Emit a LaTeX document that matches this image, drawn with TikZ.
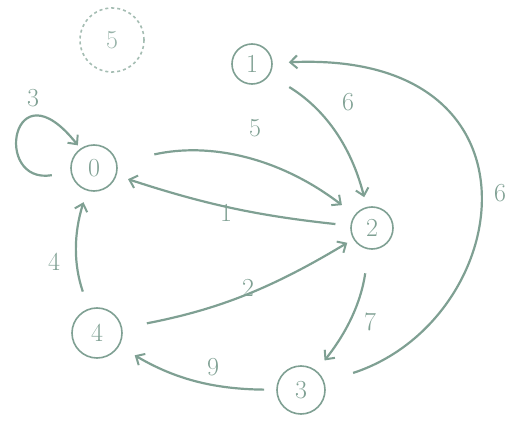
\documentclass[tikz,border=0pt]{standalone}
\usetikzlibrary{arrows.meta}
\definecolor{pencil}{HTML}{7FA093}
\begin{document}
\begin{tikzpicture}[x=1pt,y=-1pt,
  state/.style={circle,draw=pencil,line width=1.6pt,inner sep=0pt,text=pencil,font=\fontsize{26}{30}\selectfont},
  ghost/.style={state,dashed,draw=pencil!70,text=pencil!80},
  conn/.style={draw=pencil,line width=2.2pt,-{Straight Barb[length=7pt,width=13pt,line width=2pt]}},
  lbl/.style={text=pencil,font=\fontsize{26}{30}\selectfont,inner sep=0pt}]
\useasboundingbox (0,0) rectangle (515,423);
\node[ghost,minimum size=64pt] (n5) at (112,40) {5};
\node[state,minimum size=40pt] (n1) at (252,64) {1};
\node[state,minimum size=46pt] (n0) at (94,168) {0};
\node[state,minimum size=42pt] (n2) at (372,228) {2};
\node[state,minimum size=50pt] (n4) at (97,333) {4};
\node[state,minimum size=48pt] (n3) at (301,390) {3};
% self loop on 0
\draw[conn,shorten <=19pt,shorten >=4pt] (n0.190) .. controls (-8,185) and (12,62) .. (n0.125);
\node[lbl] (l3) at (33,98) {3};
% 0 -> 2
\draw[conn,shorten <=38pt,shorten >=16pt] (n0) to[bend left=25] (n2);
\node[lbl] (l5) at (255,128) {5};
% 2 -> 0
\draw[conn,shorten <=15pt,shorten >=12pt] (n2) to[bend left=6] (n0);
\node[lbl] (l1) at (226,213) {1};
% 1 -> 2
\draw[conn,shorten <=23pt,shorten >=10pt] (n1) to[bend left=22] (n2);
\node[lbl] (l6a) at (348,102) {6};
% 3 -> 1
\draw[conn,shorten <=30pt,shorten >=16pt] (n3) .. controls (515,320) and (555,50) .. (n1);
\node[lbl] (l6b) at (500,193) {6};
% 4 -> 0
\draw[conn,shorten <=18pt,shorten >=12pt] (n4) to[bend left=18] (n0);
\node[lbl] (l4) at (54,262) {4};
% 4 -> 2
\draw[conn,shorten <=25pt,shorten >=7pt] (n4) to[bend right=10] (n2);
\node[lbl] (l2) at (248,288) {2};
% 2 -> 3
\draw[conn,shorten <=24pt,shorten >=13pt] (n2) to[bend left=15] (n3);
\node[lbl] (l7) at (370,322) {7};
% 3 -> 4
\draw[conn,shorten <=12pt,shorten >=18pt] (n3) to[bend left=15] (n4);
\node[lbl] (l9) at (213,367) {9};
\end{tikzpicture}
\end{document}
